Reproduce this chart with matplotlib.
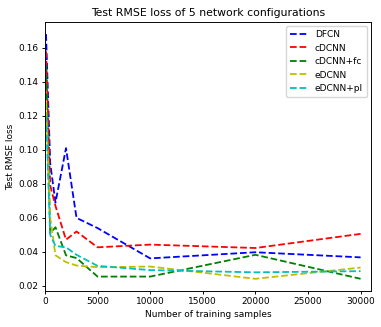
import matplotlib

matplotlib.use("Agg")
import matplotlib.pyplot as plt

# training set sizes
samples = [100, 500, 1000, 2000, 3000, 5000, 10000, 20000, 30000]

# test RMSE per configuration
dfcn = [0.168, 0.092, 0.069, 0.1010, 0.0600, 0.0540, 0.0362, 0.0398, 0.0368]
cdcnn = [0.158, 0.079, 0.067, 0.0472, 0.0520, 0.0427, 0.0443, 0.0423, 0.0506]
cdcnn_fc = [0.150, 0.051, 0.0545, 0.0380, 0.0364, 0.0255, 0.0255, 0.0383, 0.0242]
edcnn = [0.128, 0.060, 0.0380, 0.0340, 0.0320, 0.0310, 0.0314, 0.0242, 0.0308]
edcnn_pl = [0.120, 0.050, 0.0435, 0.0427, 0.0383, 0.0318, 0.0293, 0.0280, 0.0287]

series = [
    ("DFCN", dfcn, "b"),
    ("cDCNN", cdcnn, "r"),
    ("cDCNN+fc", cdcnn_fc, "g"),
    ("eDCNN", edcnn, "y"),
    ("eDCNN+pl", edcnn_pl, "c"),
]

# the original was drawn larger and shrunk, so everything is scaled down
s = 0.65
plt.rcParams.update({
    "font.size": 10 * s,
    "axes.linewidth": 0.8 * s * 1.3,
    "xtick.major.size": 3.5 * s,
    "ytick.major.size": 3.5 * s,
    "xtick.major.pad": 3.5 * s,
    "ytick.major.pad": 3.5 * s,
    "xtick.major.width": 0.8 * s * 1.3,
    "ytick.major.width": 0.8 * s * 1.3,
})

fig = plt.figure(figsize=(3.81, 3.27), dpi=100)
ax = fig.add_axes([0.118, 0.11, 0.856, 0.823])

for name, vals, col in series:
    ax.plot(samples, vals, "--", color=col, label=name, linewidth=1.3)

ax.set_xlim(0, 31000)
ax.set_xticks([0, 5000, 10000, 15000, 20000, 25000, 30000])
ax.set_yticks([0.02, 0.04, 0.06, 0.08, 0.10, 0.12, 0.14, 0.16])
ax.set_xlabel("Number of training samples", labelpad=4 * s)
ax.set_ylabel("Test RMSE loss", labelpad=4 * s)
ax.set_title("Test RMSE loss of 5 network configurations", fontsize=12 * s, pad=6 * s)
ax.legend(loc="upper right")

fig.savefig("out.png", dpi=100)
